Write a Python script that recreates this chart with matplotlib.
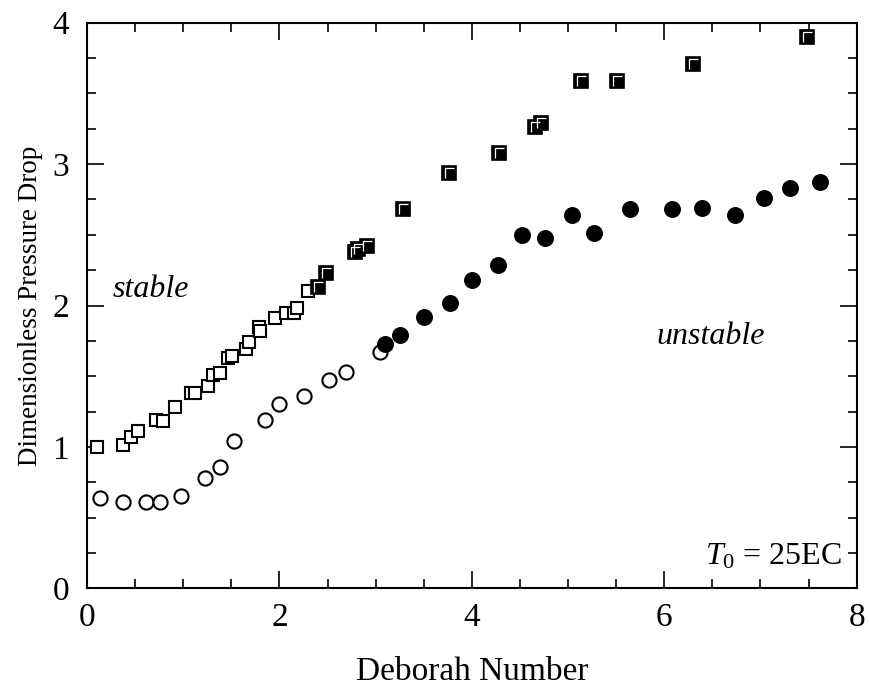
import matplotlib.pyplot as plt
from matplotlib.path import Path
from matplotlib.ticker import MultipleLocator

plt.rcParams['font.family'] = 'Liberation Serif'
plt.rcParams['mathtext.fontset'] = 'custom'
plt.rcParams['mathtext.rm'] = 'Liberation Serif'
plt.rcParams['mathtext.it'] = 'Liberation Serif:italic'

# pressure drop, stable flow (open squares)
stable_sq_x = [0.10, 0.37, 0.46, 0.53, 0.72, 0.79, 0.91, 1.08, 1.12, 1.26, 1.31, 1.38,
               1.46, 1.51, 1.65, 1.68, 1.79, 1.80, 1.95, 2.07, 2.15, 2.18, 2.30]
stable_sq_y = [1.00, 1.01, 1.07, 1.11, 1.19, 1.18, 1.28, 1.38, 1.38, 1.43, 1.51, 1.52,
               1.63, 1.64, 1.69, 1.74, 1.85, 1.82, 1.91, 1.95, 1.95, 1.98, 2.10]

# pressure drop, unstable flow (shaded squares)
unstable_sq_x = [2.40, 2.48, 2.78, 2.82, 2.91, 3.28, 3.76, 4.28, 4.66, 4.72,
                 5.13, 5.51, 6.30, 7.48]
unstable_sq_y = [2.13, 2.23, 2.38, 2.40, 2.42, 2.68, 2.94, 3.08, 3.26, 3.29,
                 3.59, 3.59, 3.71, 3.90]

# second set, stable (open circles)
stable_ci_x = [0.13, 0.37, 0.61, 0.76, 0.98, 1.23, 1.38, 1.53, 1.85, 1.99,
               2.25, 2.51, 2.69, 3.04]
stable_ci_y = [0.64, 0.61, 0.61, 0.61, 0.65, 0.78, 0.86, 1.04, 1.19, 1.30,
               1.36, 1.47, 1.53, 1.67]

# second set, unstable (filled circles)
unstable_ci_x = [3.10, 3.25, 3.50, 3.77, 4.00, 4.27, 4.52, 4.76, 5.04, 5.27,
                 5.64, 6.08, 6.39, 6.74, 7.04, 7.31, 7.62]
unstable_ci_y = [1.73, 1.79, 1.92, 2.02, 2.18, 2.29, 2.50, 2.48, 2.64, 2.51,
                 2.68, 2.68, 2.69, 2.64, 2.76, 2.83, 2.87]

# white corner highlight drawn inside the shaded squares
gamma = Path([(1, 1), (-0.46, -0.6), (-0.46, 0.64), (0.6, 0.64)],
             [Path.MOVETO, Path.MOVETO, Path.LINETO, Path.LINETO])

fig = plt.figure(figsize=(8.7, 6.88), dpi=100)
ax = fig.add_axes([0.1001, 0.1449, 0.8846, 0.8221])

ax.plot(stable_sq_x, stable_sq_y, 's', ms=9.2, mew=1.5, mfc='white', mec='black', zorder=3)
ax.plot(stable_ci_x, stable_ci_y, 'o', ms=10.2, mew=1.5, mfc='white', mec='black', zorder=3)
ax.plot(unstable_sq_x, unstable_sq_y, 's', ms=9.8, mew=1.2, mfc='black', mec='black', zorder=4)
ax.plot(unstable_sq_x, unstable_sq_y, ls='none', marker=gamma, ms=11.0, mew=0.9,
        mfc='none', mec='white', zorder=5)
ax.plot(unstable_ci_x, unstable_ci_y, 'o', ms=12.2, mew=0, mfc='black', zorder=4)

ax.set_xlim(0, 8)
ax.set_ylim(0, 4)
ax.xaxis.set_major_locator(MultipleLocator(2))
ax.xaxis.set_minor_locator(MultipleLocator(0.5))
ax.yaxis.set_major_locator(MultipleLocator(1))
ax.yaxis.set_minor_locator(MultipleLocator(0.25))
ax.tick_params(which='both', direction='in', top=True, right=True, width=1.2, labelsize=24)
ax.tick_params(which='major', length=12)
ax.tick_params(which='minor', length=6.5)
ax.tick_params(axis='x', pad=10)
ax.tick_params(axis='y', pad=13)
for s in ax.spines.values():
    s.set_linewidth(1.5)

ax.set_xlabel('Deborah Number', fontsize=24, labelpad=17)
ax.set_ylabel('Dimensionless Pressure Drop', fontsize=19.5, labelpad=7)

ax.text(0.27, 2.06, 'stable', fontsize=23, style='italic')
ax.text(7.05, 1.73, 'unstable', fontsize=23, style='italic', ha='right')
ax.text(7.85, 0.17, r'$T_0$ = 25EC', fontsize=23, ha='right')

fig.savefig('out.png', dpi=100)
